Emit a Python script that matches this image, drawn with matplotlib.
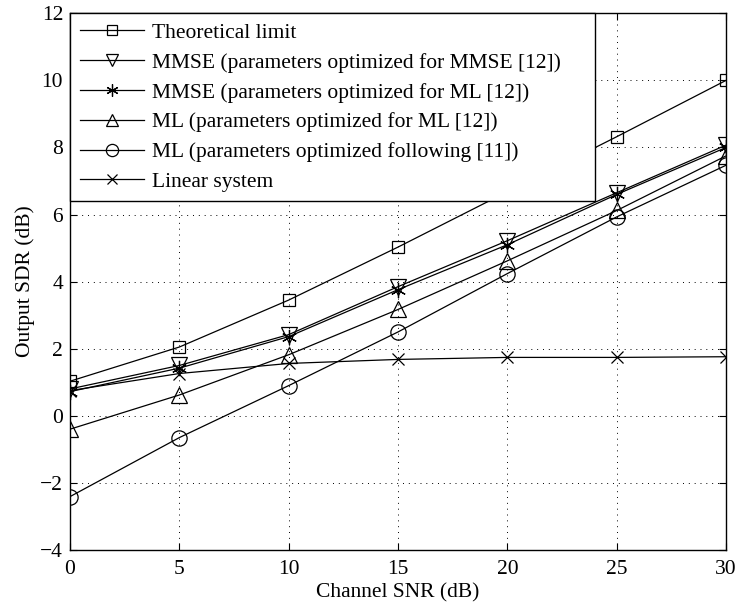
import matplotlib
matplotlib.use("Agg")
import matplotlib.pyplot as plt

plt.rcParams['font.family'] = ['Liberation Serif', 'DejaVu Serif']

snr = [0, 5, 10, 15, 20, 25, 30]
theoretical = [1.03, 2.05, 3.45, 5.03, 6.68, 8.32, 10.0]
mmse_mmse = [0.8, 1.5, 2.42, 3.85, 5.22, 6.65, 8.07]
mmse_ml = [0.72, 1.42, 2.36, 3.76, 5.1, 6.6, 8.0]
ml_ml = [-0.4, 0.62, 1.82, 3.17, 4.62, 6.12, 7.75]
ml_11 = [-2.41, -0.65, 0.9, 2.5, 4.24, 5.93, 7.47]
linear = [0.75, 1.26, 1.56, 1.68, 1.74, 1.74, 1.76]

labels = ['Theoretical limit',
          'MMSE (parameters optimized for MMSE [12])',
          'MMSE (parameters optimized for ML [12])',
          'ML (parameters optimized for ML [12])',
          'ML (parameters optimized following [11])',
          'Linear system']
series = [theoretical, mmse_mmse, mmse_ml, ml_ml, ml_11, linear]
markers = ['s', 'v', (6, 2, 0), '^', 'o', 'x']
msizes = [9, 11, 11, 11, 11, 9]

fig = plt.figure(figsize=(7.38, 6.03), dpi=100)
ax = fig.add_axes([0.0949, 0.088, 0.889, 0.89])

for y, lab, m, ms in zip(series, labels, markers, msizes):
    ax.plot(snr, y, color='black', lw=0.9, marker=m, markersize=ms,
            markerfacecolor='none', markeredgecolor='black', markeredgewidth=0.9,
            label=lab)

ax.set_xlim(0, 30)
ax.set_ylim(-4, 12)
ax.set_xticks(range(0, 31, 5))
ax.set_yticks(range(-4, 13, 2))
ax.grid(True, color='black', linestyle=(0, (1, 5)), linewidth=0.7)
ax.tick_params(direction='in', top=True, right=True, labelsize=15.5, length=5)
ax.tick_params(axis='x', pad=7)
ax.tick_params(axis='y', pad=5)
for s in ax.spines.values():
    s.set_linewidth(1.0)
ax.set_xlabel('Channel SNR (dB)', fontsize=15.5, labelpad=3)
ax.set_ylabel('Output SDR (dB)', fontsize=15.5, labelpad=4)

# legend box stretched a bit wider than its text, like the original
leg = ax.legend(loc='upper left', bbox_to_anchor=(0, 0.5, 0.8, 0.5), mode='expand',
                fontsize=15.5, handlelength=3.0, borderaxespad=0,
                fancybox=False, framealpha=1, edgecolor='black',
                labelspacing=0.45, borderpad=0.45, handletextpad=0.35, markerscale=0.8)
leg.get_frame().set_linewidth(1.0)

fig.savefig('out.png', dpi=100)
